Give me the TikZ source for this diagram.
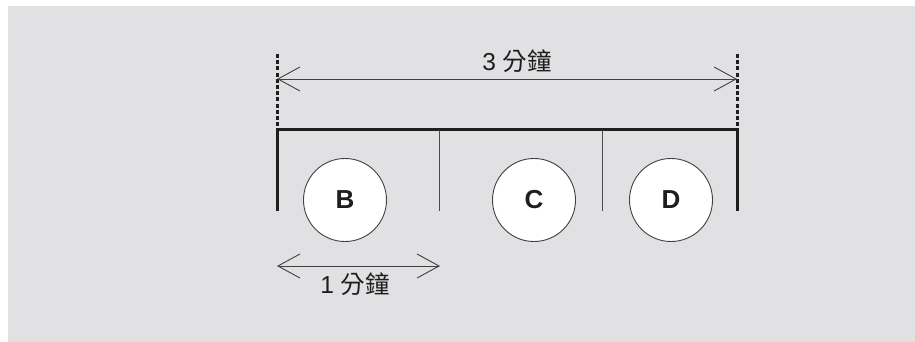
\documentclass[tikz,border=0pt]{standalone}
\usepackage{fontspec}
\setmainfont{Liberation Sans}
\newfontfamily\cjk{Noto Sans CJK TC}
\usetikzlibrary{arrows.meta}
\definecolor{bg}{HTML}{E1E1E3}
\definecolor{ink}{HTML}{1E1E1E}
\tikzset{
  thickline/.style={draw=ink, line width=3pt},
  thinline/.style={draw=ink!80, line width=0.9pt},
  dotline/.style={draw=ink, line width=3pt, dash pattern=on 4pt off 2.2pt},
  dimarrow/.style={draw=ink!85, line width=0.9pt, {Straight Barb[length=22pt,width=24pt,line width=0.9pt]}-{Straight Barb[length=22pt,width=24pt,line width=0.9pt]}},
  ball/.style={circle, draw=ink!85, line width=0.9pt, fill=white, minimum size=83pt, inner sep=0pt, font=\fontsize{26}{26}\selectfont\bfseries, text=ink},
  lbl/.style={font=\fontsize{24.5}{24.5}\selectfont, text=ink, inner sep=0pt}
}
\begin{document}
\begin{tikzpicture}[x=1pt,y=-1pt]
\useasboundingbox (0,0) rectangle (915,342);
\fill[bg] (8,6) rectangle (915,342);
% frame coordinates
\coordinate (dtl) at (277,54);
\coordinate (dtr) at (737,54);
\coordinate (tl) at (277,128.5);
\coordinate (tr) at (737,128.5);
\coordinate (bl) at (277,211);
\coordinate (br) at (737,211);
\coordinate (d1t) at (439,130);
\coordinate (d1b) at (439,211);
\coordinate (d2t) at (602,130);
\coordinate (d2b) at (602,211);
\coordinate (al) at (277,79);
\coordinate (ar) at (737,79);
\coordinate (bal) at (277,266);
\coordinate (bar) at (440,266);
% dotted extension lines
\draw[dotline] (dtl) -- (tl);
\draw[dotline] (dtr) -- (tr);
% frame
\draw[thickline] (bl) -- (277,130) -- (737,130) -- (br);
\draw[thinline] (d1t) -- (d1b);
\draw[thinline] (d2t) -- (d2b);
% arrows
\draw[dimarrow] (al) -- (ar);
\draw[dimarrow] (bal) -- (bar);
\node[lbl] (t3) at (517,61) {3 {\cjk 分鐘}};
\node[lbl] (t1) at (355,284) {1 {\cjk 分鐘}};
% balls
\node[ball] (B) at (345,200) {B};
\node[ball] (C) at (534,200) {C};
\node[ball] (D) at (671,200) {D};
\end{tikzpicture}
\end{document}
